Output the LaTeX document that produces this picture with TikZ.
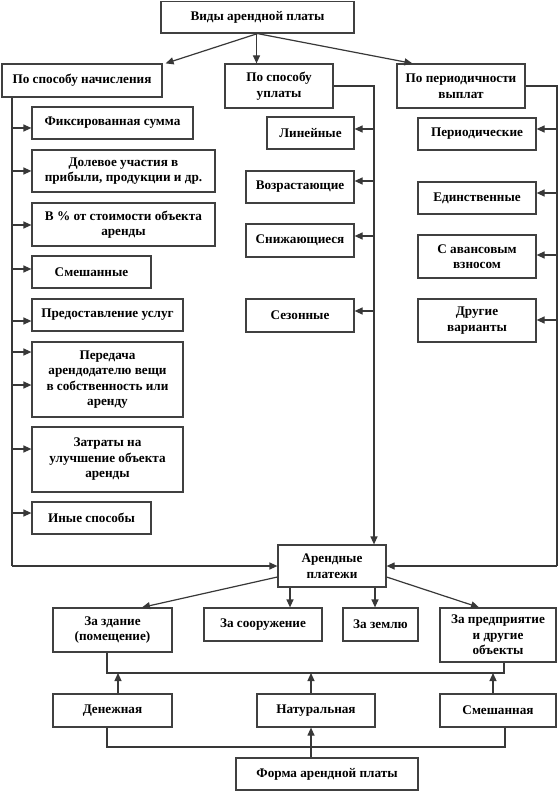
\documentclass[tikz,border=0pt]{standalone}
\usepackage{fontspec}
\setmainfont{Liberation Serif}
\usetikzlibrary{arrows.meta}
\tikzset{
  box/.style={draw=black!75, line width=1.2pt, fill=white, inner sep=0pt, align=center,
    font=\fontsize{13.2}{15.5}\selectfont\bfseries, text=black},
  conn/.style={draw=black!78, line width=1.2pt},
  arr/.style={conn, -{Triangle[length=8pt,width=7pt]}}
}
\newcommand\bx[6]{%
  \pgfmathsetmacro\bxw{#4-#2}\pgfmathsetmacro\bxh{#5-#3}%
  \pgfmathsetmacro\bxcx{(#2+#4)/2}\pgfmathsetmacro\bxcy{(#3+#5)/2}%
  \node[box, minimum width=\bxw pt, minimum height=\bxh pt] (#1) at (\bxcx,\bxcy) {#6};}
\begin{document}
\begin{tikzpicture}[x=1pt,y=-1pt]
\useasboundingbox (0,0) rectangle (558,791);
\fill[white] (0,0) rectangle (558,791);
% guide coordinates for trunk lines
\coordinate (L) at (12,0);
\coordinate (M) at (374,0);
\coordinate (R) at (557,0);
% top level
\bx{top}{161}{1.5}{354}{33}{Виды арендной платы}
\bx{nach}{2}{64}{162}{97}{По способу начисления}
\bx{upl}{225}{64}{333}{108}{По способу\\уплаты}
\bx{per}{397}{64}{525}{108}{По периодичности\\выплат}
% left column
\bx{fix}{32}{107}{193}{139}{Фиксированная сумма}
\bx{dol}{32}{150}{215}{192}{Долевое участия в\\прибыли, продукции и др.}
\bx{pct}{32}{203}{215}{246}{В \% от стоимости объекта\\аренды}
\bx{mix}{32}{256}{151}{288}{Смешанные}
\bx{usl}{32}{299}{183}{331}{Предоставление услуг}
\bx{pered}{32}{342}{183}{417}{Передача\\арендодателю вещи\\в собственность или\\аренду}
\bx{zat}{32}{427}{183}{492}{Затраты на\\улучшение объекта\\аренды}
\bx{inye}{32}{502}{151}{534}{Иные способы}
% middle column
\bx{lin}{267}{117}{354}{149}{Линейные}
\bx{voz}{246}{171}{354}{203}{Возрастающие}
\bx{sni}{246}{224}{354}{257}{Снижающиеся}
\bx{sez}{246}{299}{354}{332}{Сезонные}
% right column
\bx{peri}{418}{118}{536}{150}{Периодические}
\bx{edin}{418}{182}{536}{214}{Единственные}
\bx{avan}{418}{235}{536}{278}{С авансовым\\взносом}
\bx{dru}{418}{299}{536}{342}{Другие\\варианты}
% lower part
\bx{ap}{278}{545}{386}{587}{Арендные\\платежи}
\bx{zd}{53}{608}{172}{652}{За здание\\(помещение)}
\bx{soor}{204}{608}{322}{641}{За сооружение}
\bx{zem}{343}{608}{418}{641}{За землю}
\bx{pred}{440}{608}{556}{662}{За предприятие\\и другие\\объекты}
\bx{den}{53}{694}{172}{727}{Денежная}
\bx{nat}{257}{694}{375}{727}{Натуральная}
\bx{sme}{440}{694}{556}{727}{Смешанная}
\bx{forma}{236}{758}{418}{790}{Форма арендной платы}
% top arrows
\draw[arr] (top.south) -- ([xshift=3pt]nach.north east);
\draw[arr] ([xshift=-1pt]top.south) -- ([xshift=-1pt]top.south |- upl.north);
\draw[arr] (top.south) -- ([xshift=16pt]per.north west);
% left trunk
\draw[conn] (L |- nach.south) -- (L |- 0,566);
\draw[arr] (L |- 0,566) -- (ap.west);
\foreach \nd/\yy in {fix/128, dol/171, pct/225, mix/269, usl/321, pered/352, pered/385, zat/449, inye/513}
  \draw[arr] (L |- 0,\yy) -- (\nd.west |- 0,\yy);
% middle trunk
\draw[arr] (upl.east) -| (M |- ap.north);
\foreach \nd/\yy in {lin/129, voz/181, sni/236, sez/311}
  \draw[arr] (M |- 0,\yy) -- (\nd.east |- 0,\yy);
% right trunk
\draw[conn] (per.east) -| (R |- ap.east);
\draw[arr] (R |- ap.east) -- (ap.east);
\foreach \nd/\yy in {peri/129, edin/193, avan/255, dru/320}
  \draw[arr] (R |- 0,\yy) -- (\nd.east |- 0,\yy);
% from Арендные платежи
\draw[arr] ([yshift=-11pt]ap.west) -- ([xshift=29.5pt]zd.north);
\draw[arr] (ap.south -| 290,0) -- (soor.north -| 290,0);
\draw[arr] (ap.south -| 375,0) -- (zem.north -| 375,0);
\draw[arr] ([yshift=-11pt]ap.east) -- ([xshift=-19pt]pred.north);
% forms
\draw[conn] (zd.south -| 107,0) -- (107,673) -- (504,673) -- (pred.south -| 504,0);
\draw[arr] (den.north -| 118,0) -- (118,673);
\draw[arr] (nat.north -| 311,0) -- (311,673);
\draw[arr] (sme.north -| 493,0) -- (493,673);
\draw[conn] (den.south -| 107,0) -- (107,747) -- (505,747) -- (sme.south -| 505,0);
\draw[arr] (forma.north -| 311,0) -- (nat.south -| 311,0);
\end{tikzpicture}
\end{document}
